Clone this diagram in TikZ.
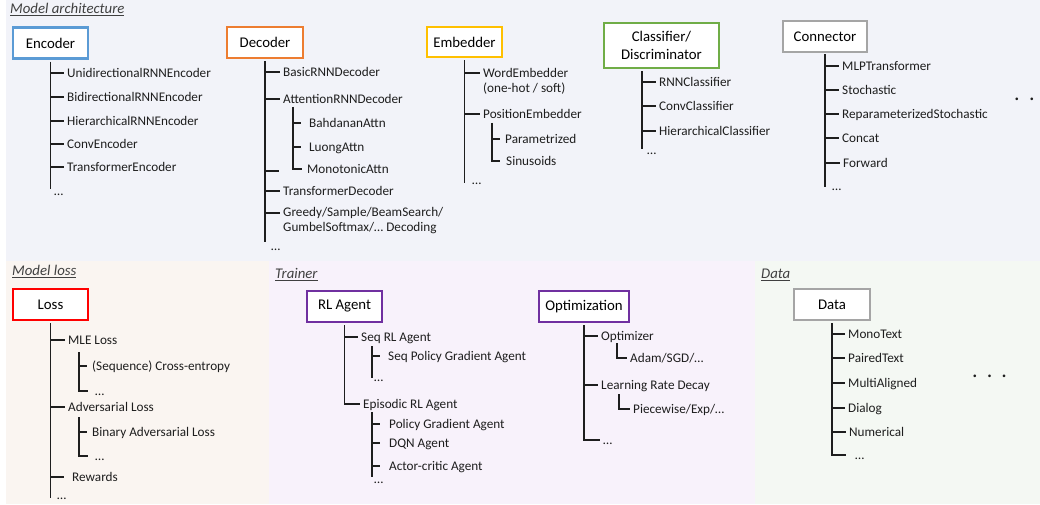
\documentclass[tikz,border=0pt]{standalone}
\usepackage{fontspec}
\setmainfont{Carlito}
\definecolor{bgTop}{HTML}{F2F3F9}
\definecolor{bgLoss}{HTML}{FAF5F1}
\definecolor{bgTrain}{HTML}{F8F2FB}
\definecolor{bgData}{HTML}{F4F8F3}
\definecolor{cBlue}{HTML}{5B9BD5}
\definecolor{cOrange}{HTML}{ED7D31}
\definecolor{cYellow}{HTML}{FFC000}
\definecolor{cGreen}{HTML}{70AD47}
\definecolor{cGray}{HTML}{A5A5A5}
\definecolor{cRed}{HTML}{FF0000}
\definecolor{cPurple}{HTML}{7030A0}
\definecolor{txt}{HTML}{1E1E1E}
\definecolor{ln}{HTML}{1E1E1E}
\definecolor{ttlc}{HTML}{404040}
\begin{document}
\begin{tikzpicture}[x=1pt,y=-1pt,
  box/.style={draw=#1, line width=2.5pt, fill=white, minimum width=75pt, minimum height=31pt,
    inner sep=2pt, font=\fontsize{14.8}{17.5}\selectfont, text=black},
  it/.style={anchor=west, inner xsep=3.5pt, inner ysep=0pt, text height=8.5pt, text depth=0pt,
    font=\fontsize{13.2}{15}\selectfont, text=txt},
  ittwo/.style={anchor=west, inner xsep=3.5pt, inner ysep=0pt, align=left,
    font=\fontsize{13.2}{15}\selectfont, text=txt},
  tree/.style={draw=ln, line width=1.3pt},
  ttl/.style={anchor=base west, inner sep=0pt, font=\fontsize{14.8}{17}\selectfont\itshape, text=ttlc},
  bigdots/.style={anchor=base west, inner sep=0pt, font=\fontsize{22}{24}\selectfont, text=txt},
]
% background panels
\fill[white] (0,0) rectangle (1040,505);
\useasboundingbox (0,0) rectangle (1040,505);
\fill[bgTop] (6,0) rectangle (1040,261);
\fill[bgLoss] (6,261) rectangle (269,504);
\fill[bgTrain] (269,261) rectangle (755,504);
\fill[bgData] (755,261) rectangle (1040,504);

% titles
\node[ttl] (t1) at (10,13.5) {\underline{Model architecture}};
\node[ttl] (t2) at (12,275.5) {\underline{Model loss}};
\node[ttl] (t3) at (275,278.5) {\underline{Trainer}};
\node[ttl] (t4) at (761,278.5) {\underline{Data}};

% ---------------- Encoder
\node[box=cBlue, minimum width=75pt] (enc) at (50.5,43) {Encoder};
\node[it] (e1) at (63.5,73) {UnidirectionalRNNEncoder};
\node[it] (e2) at (63.5,97) {BidirectionalRNNEncoder};
\node[it] (e3) at (63.5,121) {HierarchicalRNNEncoder};
\node[it] (e4) at (63.5,144) {ConvEncoder};
\node[it] (e5) at (63.5,167) {TransformerEncoder};
\node[it] (e6) at (50.5,191) {…};
\coordinate (encE) at (50.5,189);
\draw[tree, shorten <=2pt] (enc.south) -- (encE);
\foreach \n in {e1,e2,e3,e4,e5} \draw[tree] (enc.south |- \n.west) -- (\n.west);

% ---------------- Decoder
\node[box=cOrange, minimum width=76pt] (dec) at (265,42.5) {Decoder};
\node[it] (d1) at (279.5,72) {BasicRNNDecoder};
\node[it] (d2) at (279.5,99) {AttentionRNNDecoder};
\node[it] (d3) at (305.5,123) {BahdananAttn};
\node[it] (d4) at (305.5,147) {LuongAttn};
\node[it] (d5) at (303.5,169) {MonotonicAttn};
\node[it] (d6) at (279.5,191) {TransformerDecoder};
\node[ittwo] (d7) at (279.5,221) {Greedy/Sample/BeamSearch/\\GumbelSoftmax/… Decoding};
\node[it] (d8) at (267.5,246) {…};
\coordinate (decE) at (265,242);
\coordinate (d2s) at (293,107);
\coordinate (dx) at (279,171);
\coordinate (d7t) at (279.5,213);
\draw[tree, shorten <=2pt] (dec.south) -- (decE);
\foreach \n in {d1,d2,d6} \draw[tree] (dec.south |- \n.west) -- (\n.west);
\draw[tree] (dec.south |- dx) -- (dx);
\draw[tree] (dec.south |- d7t) -- (d7t);
\draw[tree, shorten >=1.5pt] (d2s) |- (d5.west);
\foreach \n in {d3,d4} \draw[tree, shorten >=4.5pt] (d2s |- \n.west) -- (\n.west);

% ---------------- Embedder
\node[box=cYellow, minimum width=75pt, minimum height=30pt] (emb) at (464.5,42) {Embedder};
\node[ittwo] (m1) at (479.5,81) {WordEmbedder\\(one-hot / soft)};
\node[it] (m2) at (479.5,114) {PositionEmbedder};
\node[it] (m3) at (501.5,139) {Parametrized};
\node[it] (m4) at (502.5,161) {Sinusoids};
\node[it] (m5) at (468.5,180) {…};
\coordinate (embE) at (464.5,183);
\coordinate (m1t) at (479.5,73);
\coordinate (m2s) at (492,123);
\draw[tree, shorten <=2pt] (emb.south) -- (embE);
\draw[tree] (emb.south |- m1t) -- (m1t);
\draw[tree] (emb.south |- m2.west) -- (m2.west);
\draw[tree, shorten >=1.5pt] (m2s |- m3.west) -- (m3.west);
\draw[tree, shorten >=2.5pt] (m2s) |- (m4.west);

% ---------------- Classifier
\node[box=cGreen, minimum width=115pt, minimum height=45pt, align=center] (cls) at (661.5,45.5) {Classifier/\\Discriminator};
\node[it] (c1) at (655.5,82) {RNNClassifier};
\node[it] (c2) at (655.5,106) {ConvClassifier};
\node[it] (c3) at (655.5,131) {HierarchicalClassifier};
\node[it] (c4) at (643.5,150) {…};
\coordinate (clsE) at (642,149);
\draw[tree, shorten <=2pt] (cls.south -| clsE) -- (clsE);
\foreach \n in {c1,c2,c3} \draw[tree] (clsE |- \n.west) -- (\n.west);

% ---------------- Connector
\node[box=cGray, minimum width=84pt] (con) at (825,36.5) {Connector};
\node[it] (n1) at (838.5,66) {MLPTransformer};
\node[it] (n2) at (838.5,90) {Stochastic};
\node[it] (n3) at (838.5,114) {ReparameterizedStochastic};
\node[it] (n4) at (838.5,138) {Concat};
\node[it] (n5) at (839.5,163) {Forward};
\node[it] (n6) at (828.5,186) {…};
\coordinate (conE) at (825,187);
\draw[tree, shorten <=1pt] (con.south) -- (conE);
\foreach \n in {n1,n2,n3,n4,n5} \draw[tree] (con.south |- \n.west) -- (\n.west);

\node[bigdots] (dotsA) at (1014,100.5) {.\hspace{9.3pt}.};

% ---------------- Loss
\node[box=cRed, minimum width=75pt] (loss) at (50.5,304.5) {Loss};
\node[it] (l1) at (64.5,340) {MLE Loss};
\node[it] (l2) at (88.5,366) {(Sequence) Cross-entropy};
\node[it] (l3) at (91.5,391) {…};
\node[it] (l4) at (64.5,407) {Adversarial Loss};
\node[it] (l5) at (88.5,432) {Binary Adversarial Loss};
\node[it] (l6) at (91.5,456) {…};
\node[it] (l7) at (68.5,477) {Rewards};
\node[it] (l8) at (53.5,495) {…};
\coordinate (lossE) at (50.5,498);
\coordinate (l1s) at (79,352);
\coordinate (l4s) at (79,417);
\draw[tree, shorten <=2pt] (loss.south) -- (lossE);
\foreach \n in {l1,l4} \draw[tree] (loss.south |- \n.west) -- (\n.west);
\draw[tree, shorten >=4.5pt] (loss.south |- l7.west) -- (l7.west);
\draw[tree, shorten >=1.5pt] (l1s |- l2.west) -- (l2.west);
\draw[tree, shorten >=3.5pt] (l1s) |- (l3.west);
\draw[tree, shorten >=1.5pt] (l4s |- l5.west) -- (l5.west);
\draw[tree, shorten >=3.5pt] (l4s) |- (l6.west);

% ---------------- RL Agent
\node[box=cPurple, minimum width=75pt] (rl) at (344.5,306.5) {RL Agent};
\node[it] (r1) at (357.5,337) {Seq RL Agent};
\node[it] (r2) at (384.5,356) {Seq Policy Gradient Agent};
\node[it] (r3) at (370.5,377) {…};
\node[it] (r4) at (359.5,404) {Episodic RL Agent};
\node[it] (r5) at (385.5,424) {Policy Gradient Agent};
\node[it] (r6) at (385.5,443) {DQN Agent};
\node[it] (r7) at (385.5,466) {Actor-critic Agent};
\node[it] (r8) at (370.5,479) {…};
\coordinate (r1s) at (372,346);
\coordinate (r1e) at (372,378);
\coordinate (r4s) at (372,412);
\coordinate (r4e) at (372,477);
\draw[tree, shorten <=2pt] (rl.south) |- (r4.west);
\draw[tree] (rl.south |- r1.west) -- (r1.west);
\draw[tree] (r1s) -- (r1e);
\draw[tree, shorten >=4.5pt] (r1s |- r2.west) -- (r2.west);
\draw[tree] (r4s) -- (r4e);
\foreach \n in {r5,r6,r7} \draw[tree, shorten >=5.5pt] (r4s |- \n.west) -- (\n.west);

% ---------------- Optimization
\node[box=cPurple, minimum width=90pt] (opt) at (584,306.5) {Optimization};
\node[it] (o1) at (597.5,336) {Optimizer};
\node[it] (o2) at (626.5,358) {Adam/SGD/…};
\node[it] (o3) at (597.5,385) {Learning Rate Decay};
\node[it] (o4) at (629.5,409) {Piecewise/Exp/…};
\node[it] (o5) at (599.5,440) {…};
\coordinate (o1s) at (617,343);
\coordinate (o3s) at (619,394);
\draw[tree, shorten <=2pt] (opt.south) |- (o5.west);
\foreach \n in {o1,o3} \draw[tree] (opt.south |- \n.west) -- (\n.west);
\draw[tree] (o1s) |- (o2.west);
\draw[tree] (o3s) |- (o4.west);

% ---------------- Data
\node[box=cGray, minimum width=76pt] (data) at (832,304.5) {Data};
\node[it] (a1) at (844.5,334) {MonoText};
\node[it] (a2) at (844.5,358) {PairedText};
\node[it] (a3) at (844.5,383) {MultiAligned};
\node[it] (a4) at (844.5,408) {Dialog};
\node[it] (a5) at (845.5,432) {Numerical};
\node[it] (a6) at (851.5,455) {…};
\draw[tree, shorten <=2pt, shorten >=6pt] (data.south) |- (a6.west);
\foreach \n in {a1,a2,a3,a4,a5} \draw[tree] (data.south |- \n.west) -- (\n.west);

\node[bigdots] (dotsB) at (972,377.5) {.\hspace{9pt}.\hspace{9pt}.};
\end{tikzpicture}
\end{document}
